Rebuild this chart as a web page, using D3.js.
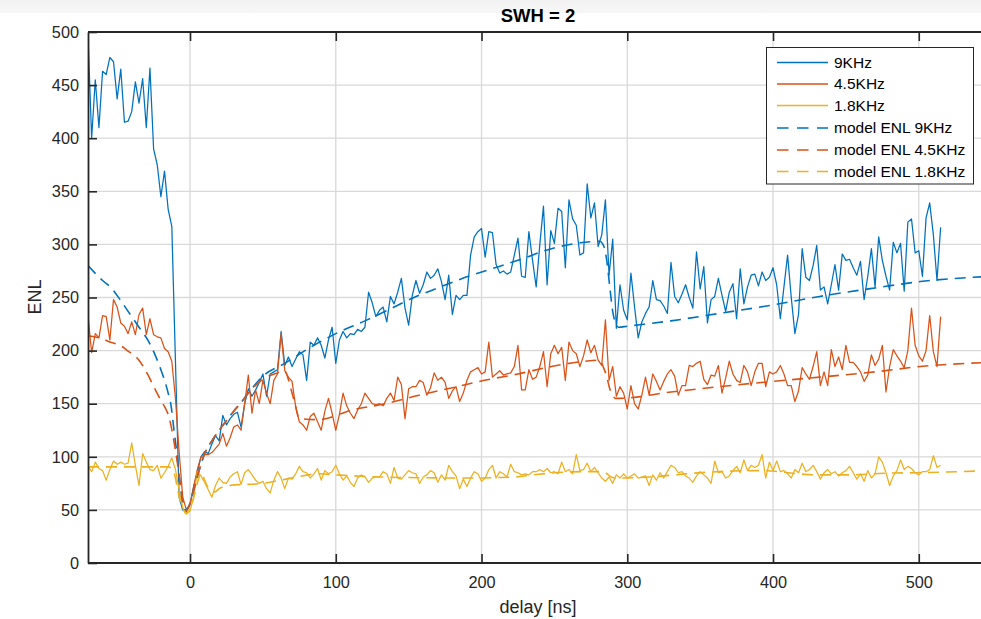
<!DOCTYPE html>
<html><head><meta charset="utf-8">
<script src="https://cdn.jsdelivr.net/npm/d3@7"></script>
<style>html,body{margin:0;padding:0;background:#fff;overflow:hidden}</style>
</head><body><svg id="c" width="981" height="619"></svg>
<script>
// ---- data ----
const delayStart = -70, delayStep = 2.5;   // ns sampling of measured ENL
const xTicks = [0, 100, 200, 300, 400, 500];
const yTicks = [0, 50, 100, 150, 200, 250, 300, 350, 400, 450, 500];
const seriesNames = ["9KHz", "4.5KHz", "1.8KHz", "model ENL 9KHz", "model ENL 4.5KHz", "model ENL 1.8KHz"];

const enl9 = [
 497,400,455,410,463,460,476,472,437,465,
 415,416,425,453,433,456,410,466,390,375,
 345,369,333,317,190,62,50,48,55,72,
 85,100,105,103,112,120,115,139,130,136,
 140,142,128,150,164,157,163,170,178,157,
 178,180,182,218,186,194,185,192,199,196,
 172,208,205,212,205,193,210,222,188,210,
 218,212,216,215,220,218,222,255,245,232,
 238,241,227,251,244,255,268,240,224,252,
 266,254,262,274,268,271,277,265,248,271,
 234,252,248,252,252,290,307,312,315,288,
 312,311,281,273,275,272,274,290,306,270,
 269,312,285,260,300,336,262,313,301,334,
 331,278,342,324,318,290,292,357,325,339,
 298,309,342,271,305,221,262,238,229,273,
 241,212,227,235,241,266,248,247,242,235,
 283,251,245,253,262,250,240,293,258,279,
 226,248,251,268,252,237,255,263,230,277,
 244,260,271,272,261,274,266,269,278,262,
 230,260,290,250,216,234,296,269,266,280,
 299,257,260,244,262,281,257,291,285,286,
 278,271,284,248,270,296,260,307,285,270,
 257,302,292,301,256,321,324,292,294,270,
 325,339,309,266,316];

const enl45 = [
 233,198,216,212,233,232,210,248,241,226,
 223,216,227,215,234,240,215,230,215,213,
 212,202,199,190,155,105,62,50,55,72,
 88,100,102,102,104,108,112,122,110,118,
 128,130,125,150,177,141,163,150,172,160,
 150,172,178,216,181,175,171,147,133,130,
 125,138,141,133,125,143,155,141,125,140,
 160,148,141,136,144,150,160,155,150,149,
 150,148,155,160,153,175,168,136,164,166,
 166,172,170,158,165,179,172,175,170,155,
 162,166,152,160,172,180,182,184,178,180,
 208,175,178,181,177,178,179,185,205,163,
 163,182,173,175,185,199,166,197,205,197,
 203,172,208,200,197,185,195,210,198,205,
 191,186,229,172,185,157,166,160,145,167,
 150,145,158,175,158,178,171,163,171,178,
 182,176,158,167,167,186,185,188,190,173,
 168,177,176,186,160,174,190,178,172,170,
 186,180,167,180,188,188,166,180,178,180,
 186,178,167,167,152,162,184,178,173,185,
 199,167,180,167,201,185,194,182,205,189,
 189,185,180,171,177,196,186,192,205,161,
 185,201,195,190,184,200,240,205,195,190,
 200,233,199,185,232];

const enl18 = [
 91,86,95,89,87,78,88,96,93,95,
 93,94,113,92,73,103,95,88,87,92,
 80,85,91,99,88,69,52,46,49,62,
 86,82,76,69,62,73,80,76,75,81,
 84,86,74,85,88,83,78,75,77,70,
 66,78,86,80,70,80,79,84,91,86,
 85,80,84,89,78,87,84,86,92,84,
 78,82,76,72,80,83,81,76,80,81,
 81,86,84,75,90,80,79,83,87,85,
 84,75,81,83,87,85,76,83,78,92,
 86,82,70,79,72,80,86,84,77,80,
 88,92,80,86,84,81,93,86,85,83,
 84,83,86,86,88,86,89,85,86,84,
 95,86,88,84,102,87,88,94,86,90,
 85,80,77,81,75,83,80,84,80,82,
 84,80,81,82,73,83,78,85,80,86,
 92,90,85,86,82,80,76,82,86,83,
 80,75,96,85,86,80,82,87,91,85,
 97,87,92,90,92,102,80,95,87,96,
 86,87,84,80,88,85,94,86,88,92,
 86,79,85,88,84,86,82,85,87,91,
 85,79,84,77,87,80,84,100,95,85,
 73,82,87,97,88,91,89,85,83,86,
 86,88,101,90,92];

const model9Delay = [-70,-60,-54,-48,-42,-35,-29,-24,-20,-17,-15,-13,-11,-9,-7,-5,-3.5,-2,0,2,4,6,8,10,15,20,25,30,35,40,50,65,85,100,120,140,152,170,191,207,225,248,271,281,284,286,288,290,292,294,300,330,363,400,432,470,501,550];
const model9 = [280,266,259,248,236,222,210,196,182,170,160,148,125,103,77,57,50,51,56,66,76,86,95,103,115,125,134,143,151,160,176,188,205,216,228,241,249,259,270,277,285,296,302,303,298,284,260,237,226,222,223,228,235,243,251,259,265,270];

const model45Delay = [-70,-60,-55,-48,-43,-35,-30,-27,-23,-20,-17,-15,-12,-10,-8,-6,-4,-2.5,0,2,4,6,8,10,15,20,25,30,35,40,50,60,65,67,70,72,75,88,111,134,157,180,202,225,248,271,281,284,286,288,290,292,294,330,363,400,432,470,501,550];
const model45 = [214,211,208,205,200,191,180,172,161,153,146,140,122,106,88,68,54,50,56,66,76,86,95,103,115,125,134,143,151,160,173,179,181,175,160,150,136,135,144,150,158,165,172,178,185,190,191,183,175,164,158,155,155,161,166,171,175,180,185,189];

const model18Delay = [-70,-15,-12,-10,-8.5,-7,-5,-2.8,-0.5,1.5,3,5,6.5,8,10,13,17,20,27,50,66,89,100,131,189,223,235,269,283,286,289,292,315,333,345,391,430,453,476,498,550];
const model18 = [90.5,90.5,88,80,69,60,52,47,51,57,64,75,82,85,78,70,67,70,73,75,79,84,83,81,80,81,83,86,86,84,81,80,81,83,84.5,87,83,83,84.5,85,87];

// ---- layout ----
const W = 981, H = 619;
const m = {left: 88, top: 32, bottom: 563};
const xMin = -70, xMax = 550;
const pxPerNs = 1.4575;
const plotRight = m.left + (xMax - xMin) * pxPerNs;
const colors = ["#0072BD", "#D95319", "#EDB120"];
const FONT = "'Liberation Sans', Arial, Helvetica, sans-serif";

const svg = d3.select("#c");
const x = d3.scaleLinear().domain([xMin, xMax]).range([m.left, plotRight]);
const y = d3.scaleLinear().domain([0, 500]).range([m.bottom, m.top]);

// top figure band
const defs = svg.append("defs");
const g1 = defs.append("linearGradient").attr("id", "band").attr("x1", 0).attr("x2", 0).attr("y1", 0).attr("y2", 1);
g1.append("stop").attr("offset", "0%").attr("stop-color", "#f2f2f2");
g1.append("stop").attr("offset", "100%").attr("stop-color", "#f7f7f7");
svg.append("rect").attr("x", 0).attr("y", 0).attr("width", W).attr("height", 13).attr("fill", "url(#band)");
defs.append("clipPath").attr("id", "clip").append("rect")
  .attr("x", m.left).attr("y", m.top).attr("width", plotRight - m.left).attr("height", m.bottom - m.top);

// grid
const grid = svg.append("g").attr("stroke", "#d9d9d9").attr("stroke-width", 1.3);
grid.selectAll(".gy").data(yTicks).join("line")
  .attr("x1", m.left).attr("x2", plotRight).attr("y1", d => y(d)).attr("y2", d => y(d));
grid.selectAll(".gx").data(xTicks).join("line")
  .attr("y1", m.top).attr("y2", m.bottom).attr("x1", d => x(d)).attr("x2", d => x(d));

// data lines
const plot = svg.append("g").attr("clip-path", "url(#clip)");
const sampled = arr => arr.map((v, i) => [delayStart + i * delayStep, v]);
const line = d3.line().x(d => x(d[0])).y(d => y(d[1]));
[enl9, enl45, enl18].forEach((arr, k) => {
  plot.append("path").datum(sampled(arr)).attr("d", line)
    .attr("fill", "none").attr("stroke", colors[k]).attr("stroke-width", 1.25).attr("stroke-linejoin", "round");
});
[[model9Delay, model9], [model45Delay, model45], [model18Delay, model18]].forEach(([xs, ys], k) => {
  plot.append("path").datum(xs.map((d, i) => [d, ys[i]])).attr("d", d3.line().x(d => x(d[0])).y(d => y(d[1])).curve(d3.curveMonotoneX))
    .attr("fill", "none").attr("stroke", colors[k]).attr("stroke-width", 1.6).attr("stroke-dasharray", "11,7");
});

// axes
const axStroke = "#262626";
const axB = svg.append("g").attr("transform", `translate(0,${m.bottom})`)
  .call(d3.axisBottom(x).tickValues(xTicks).tickSizeInner(-9).tickSizeOuter(0).tickPadding(13));
const axT = svg.append("g").attr("transform", `translate(0,${m.top})`)
  .call(d3.axisTop(x).tickValues(xTicks).tickSizeInner(-9).tickSizeOuter(0).tickFormat(""));
const axL = svg.append("g").attr("transform", `translate(${m.left},0)`)
  .call(d3.axisLeft(y).tickValues(yTicks).tickSizeInner(-9).tickSizeOuter(0).tickPadding(9));
[axB, axT, axL].forEach(a => {
  a.select(".domain").attr("stroke", axStroke).attr("stroke-width", 1.8);
  a.selectAll(".tick line").attr("stroke", axStroke).attr("stroke-width", 1.6);
  a.selectAll("text").attr("fill", "#262626").style("font-family", FONT).style("font-size", "16.3px");
});
axB.select(".domain").attr("d", `M${m.left},0H${W + 20}`);
axT.select(".domain").attr("d", `M${m.left},0H${W + 20}`);

// labels
svg.append("text").attr("x", 538).attr("y", 21.5).attr("text-anchor", "middle")
  .style("font-family", FONT).style("font-size", "18.5px").style("font-weight", "bold").attr("fill", "#000").text("SWH = 2");
svg.append("text").attr("x", 538).attr("y", 613).attr("text-anchor", "middle")
  .style("font-family", FONT).style("font-size", "18px").attr("fill", "#262626").text("delay [ns]");
svg.append("text").attr("transform", "translate(41,297) rotate(-90)").attr("text-anchor", "middle")
  .style("font-family", FONT).style("font-size", "18px").attr("fill", "#262626").text("ENL");

// legend
const lg = svg.append("g");
lg.append("rect").attr("x", 766.5).attr("y", 47.5).attr("width", 207).attr("height", 136.5)
  .attr("fill", "#fff").attr("stroke", axStroke).attr("stroke-width", 1);
const rowY = [62.5, 84, 105.5, 128, 150, 171.5];
seriesNames.forEach((name, i) => {
  lg.append("line").attr("x1", 777).attr("x2", 828).attr("y1", rowY[i]).attr("y2", rowY[i])
    .attr("stroke", colors[i % 3]).attr("stroke-width", 1.6)
    .attr("stroke-dasharray", i >= 3 ? "11.5,8.5" : null);
  lg.append("text").attr("x", 834).attr("y", rowY[i]).attr("dy", "0.35em")
    .style("font-family", FONT).style("font-size", "15.5px").attr("fill", "#000").text(name);
});
</script>
</body></html>
